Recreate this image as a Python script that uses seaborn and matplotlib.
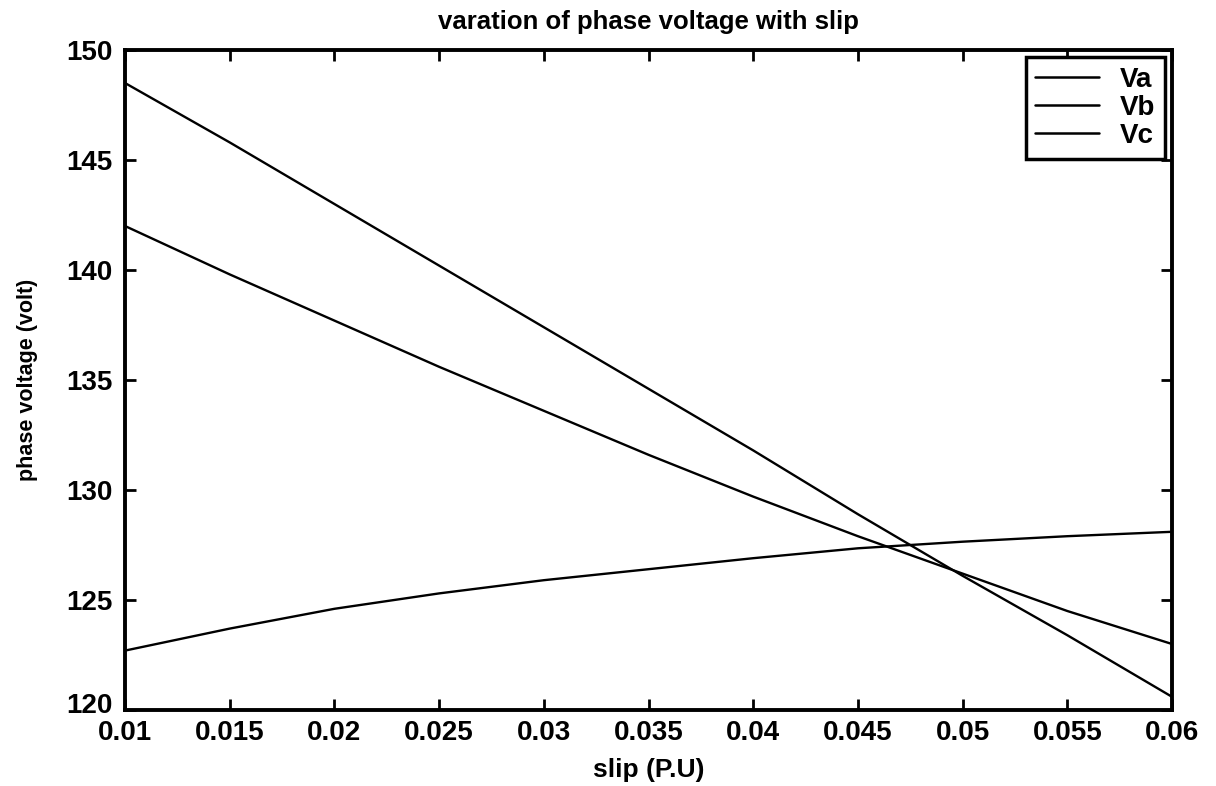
import matplotlib
matplotlib.use("Agg")
import matplotlib.pyplot as plt
import matplotlib.transforms as mtransforms
import seaborn as sns
import pandas as pd

# slip values (per unit) and phase voltages (volt)
slip = [0.010, 0.015, 0.020, 0.025, 0.030, 0.035, 0.040, 0.045, 0.050, 0.055, 0.060]
va = [148.5, 145.8, 143.0, 140.2, 137.4, 134.6, 131.8, 128.9, 126.1, 123.4, 120.6]
vb = [142.0, 139.8, 137.7, 135.6, 133.6, 131.6, 129.7, 127.9, 126.2, 124.5, 123.0]
vc = [122.7, 123.7, 124.6, 125.3, 125.9, 126.4, 126.9, 127.35, 127.65, 127.9, 128.1]
series_names = ["Va", "Vb", "Vc"]

x_ticks = [0.01, 0.015, 0.02, 0.025, 0.03, 0.035, 0.04, 0.045, 0.05, 0.055, 0.06]
x_tick_labels = ["0.01", "0.015", "0.02", "0.025", "0.03", "0.035", "0.04",
                 "0.045", "0.05", "0.055", "0.06"]
y_ticks = [120, 125, 130, 135, 140, 145, 150]

df = pd.concat([
    pd.DataFrame({"slip": slip, "voltage": v, "phase": name})
    for name, v in zip(series_names, [va, vb, vc])
], ignore_index=True)

sns.set_theme(style="white")
plt.rcParams["font.family"] = ["Liberation Sans", "DejaVu Sans"]
plt.rcParams["text.color"] = "black"
plt.rcParams["axes.labelcolor"] = "black"

fig = plt.figure(figsize=(12.16, 7.86), dpi=100)
ax = fig.add_axes([125 / 1216, 1 - 710 / 786, (1172 - 125) / 1216, (710 - 50) / 786])

sns.lineplot(data=df, x="slip", y="voltage", hue="phase", hue_order=series_names,
             palette=["black", "black", "black"], linewidth=1.7, ax=ax, legend=True)

ax.set_xlim(0.01, 0.06)
ax.set_ylim(120, 150)
ax.set_xticks(x_ticks)
ax.set_xticklabels(x_tick_labels)
ax.set_yticks(y_ticks)

for side in ["top", "bottom", "left", "right"]:
    ax.spines[side].set_visible(True)
    ax.spines[side].set_color("black")
    ax.spines[side].set_linewidth(2.8)

ax.tick_params(axis="both", which="major", direction="in", length=8, width=2,
               colors="black", labelsize=20, top=True, right=True,
               bottom=True, left=True)
ax.tick_params(axis="x", pad=7)
ax.tick_params(axis="y", pad=9)
for lab in ax.get_xticklabels() + ax.get_yticklabels():
    lab.set_fontweight("bold")

# lift the lowest y label a little so it clears the first x label
lowest = ax.get_yticklabels()[0]
lowest.set_transform(lowest.get_transform() +
                     mtransforms.ScaledTranslation(0, 7 / 100, fig.dpi_scale_trans))

ax.set_title("varation of phase voltage with slip", fontsize=18.5, fontweight="bold", pad=15)
ax.set_xlabel("slip (P.U)", fontsize=19, fontweight="bold", labelpad=9)
ax.set_ylabel("phase voltage (volt)", fontsize=15.5, fontweight="bold", labelpad=20)

leg = ax.legend(loc="upper right", fontsize=20, frameon=True, fancybox=False,
                edgecolor="black", framealpha=1, handlelength=2.3,
                borderaxespad=0.25, borderpad=0.35, labelspacing=0.08,
                handletextpad=0.75)
leg.get_frame().set_linewidth(2.5)
for t in leg.get_texts():
    t.set_fontweight("bold")
for h in leg.get_lines():
    h.set_linewidth(1.8)

fig.savefig("out.png", dpi=100, facecolor="white")
